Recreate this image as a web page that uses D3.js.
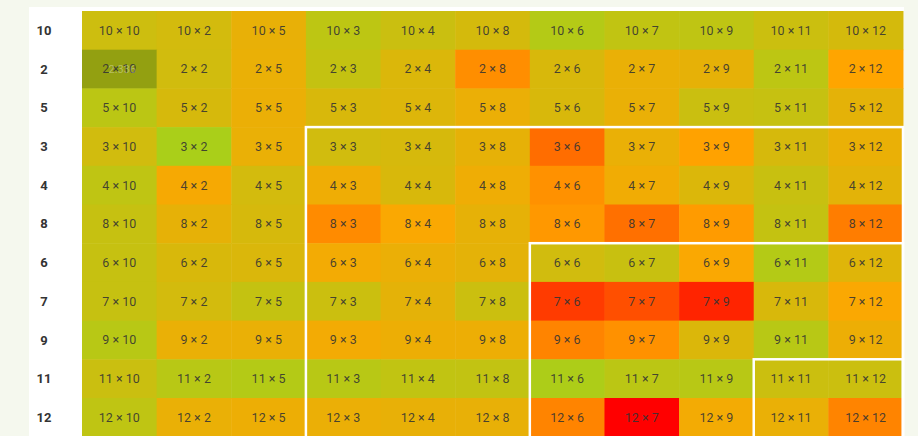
<!DOCTYPE html>
<html>
<head>
<meta charset="utf-8">
<script src="https://cdn.jsdelivr.net/npm/d3@7"></script>
<style>
  html, body { margin: 0; padding: 0; background: #f5f8ee; overflow: hidden; }
  text { font-family: Roboto, "Noto Sans", sans-serif; }
</style>
</head>
<body>
<div id="chart"></div>
<script>
// row / column order (same on both axes)
const rows = ["10", "2", "5", "3", "4", "8", "6", "7", "9", "11", "12"];
const cols = ["10", "2", "5", "3", "4", "8", "6", "7", "9", "11", "12"];

// score per cell, 0 = green, 0.5 = orange, 1 = red
const values = [
  [0.22, 0.25, 0.37, 0.13, 0.20, 0.26, 0.08, 0.15, 0.14, 0.21, 0.26],
  [0.10, 0.24, 0.38, 0.17, 0.30, 0.57, 0.28, 0.38, 0.36, 0.13, 0.50],
  [0.12, 0.27, 0.39, 0.28, 0.31, 0.39, 0.28, 0.38, 0.20, 0.18, 0.35],
  [0.24, 0.02, 0.38, 0.24, 0.27, 0.36, 0.67, 0.38, 0.51, 0.27, 0.38],
  [0.14, 0.45, 0.25, 0.41, 0.28, 0.41, 0.56, 0.42, 0.30, 0.19, 0.34],
  [0.18, 0.36, 0.27, 0.58, 0.47, 0.36, 0.54, 0.66, 0.53, 0.17, 0.62],
  [0.18, 0.28, 0.29, 0.43, 0.39, 0.35, 0.24, 0.19, 0.47, 0.08, 0.32],
  [0.18, 0.25, 0.17, 0.21, 0.35, 0.21, 0.82, 0.76, 0.89, 0.28, 0.47],
  [0.10, 0.38, 0.38, 0.43, 0.40, 0.40, 0.60, 0.56, 0.30, 0.10, 0.40],
  [0.20, 0.10, 0.08, 0.10, 0.15, 0.16, 0.04, 0.12, 0.10, 0.21, 0.21],
  [0.14, 0.38, 0.40, 0.39, 0.37, 0.37, 0.60, 1.00, 0.43, 0.38, 0.60]
];

// nested groups start at these indices and run to the end
const blockStarts = [3, 6, 9];

// cell under the mouse when the picture was taken
const hover = { row: "2", col: "10", label: "2.336" };

const width = 918;
const height = 436;

const svg = d3.select("#chart")
  .append("svg")
  .attr("width", width).attr("height", height);

svg.append("rect")
  .attr("x", 29).attr("y", 7)
  .attr("width", 875).attr("height", height)
  .attr("fill", "#fff");

const x = d3.scaleBand().domain(cols).range([82, 903]);
const y = d3.scaleBand().domain(rows).range([11, 11 + 38.7 * rows.length]);

const color = d3.scaleLinear()
  .domain([0, 0.5, 1])
  .range(["#a6d11a", "#ffa500", "#ff0000"]);

const cells = [];
rows.forEach((r, i) => {
  cols.forEach((c, j) => {
    cells.push({ row: r, col: c, value: values[i][j] });
  });
});

const cell = svg.append("g")
  .selectAll("g")
  .data(cells)
  .join("g")
  .attr("transform", (d) => `translate(${x(d.col)},${y(d.row)})`);

cell.append("rect")
  .attr("width", x.bandwidth() + 0.5)
  .attr("height", y.bandwidth() + 0.5)
  .attr("fill", (d) => {
    const c = color(d.value);
    return (d.row === hover.row && d.col === hover.col)
      ? d3.color(c).darker(0.62) : c;
  });

cell.append("text")
  .attr("x", x.bandwidth() / 2)
  .attr("y", y.bandwidth() / 2)
  .attr("dy", "0.35em")
  .attr("text-anchor", "middle")
  .attr("font-size", 12.5)
  .attr("fill", "#333")
  .attr("fill-opacity", 0.88)
  .text((d) => `${d.row} × ${d.col}`);

// faint value label on the hovered cell
svg.append("text")
  .attr("x", x(hover.col) + x.bandwidth() / 2 + 3)
  .attr("y", y(hover.row) + y.bandwidth() / 2)
  .attr("dy", "0.4em")
  .attr("text-anchor", "middle")
  .attr("font-size", 11)
  .attr("fill", "#fff")
  .attr("fill-opacity", 0.35)
  .text(hover.label);

// row labels
svg.append("g")
  .selectAll("text")
  .data(rows)
  .join("text")
  .attr("x", 44)
  .attr("y", (d) => y(d) + y.bandwidth() / 2)
  .attr("dy", "0.35em")
  .attr("text-anchor", "middle")
  .attr("font-size", 13)
  .attr("font-weight", "bold")
  .attr("fill", "#333")
  .text((d) => d);

// white outlines of the nested blocks
svg.append("g")
  .selectAll("rect")
  .data(blockStarts)
  .join("rect")
  .attr("x", (k) => x(cols[k]))
  .attr("y", (k) => y(rows[k]))
  .attr("width", (k) => x.range()[1] - x(cols[k]))
  .attr("height", (k) => height + 20 - y(rows[k]))
  .attr("fill", "none")
  .attr("stroke", "#fff")
  .attr("stroke-width", 2.5);
</script>
</body>
</html>
